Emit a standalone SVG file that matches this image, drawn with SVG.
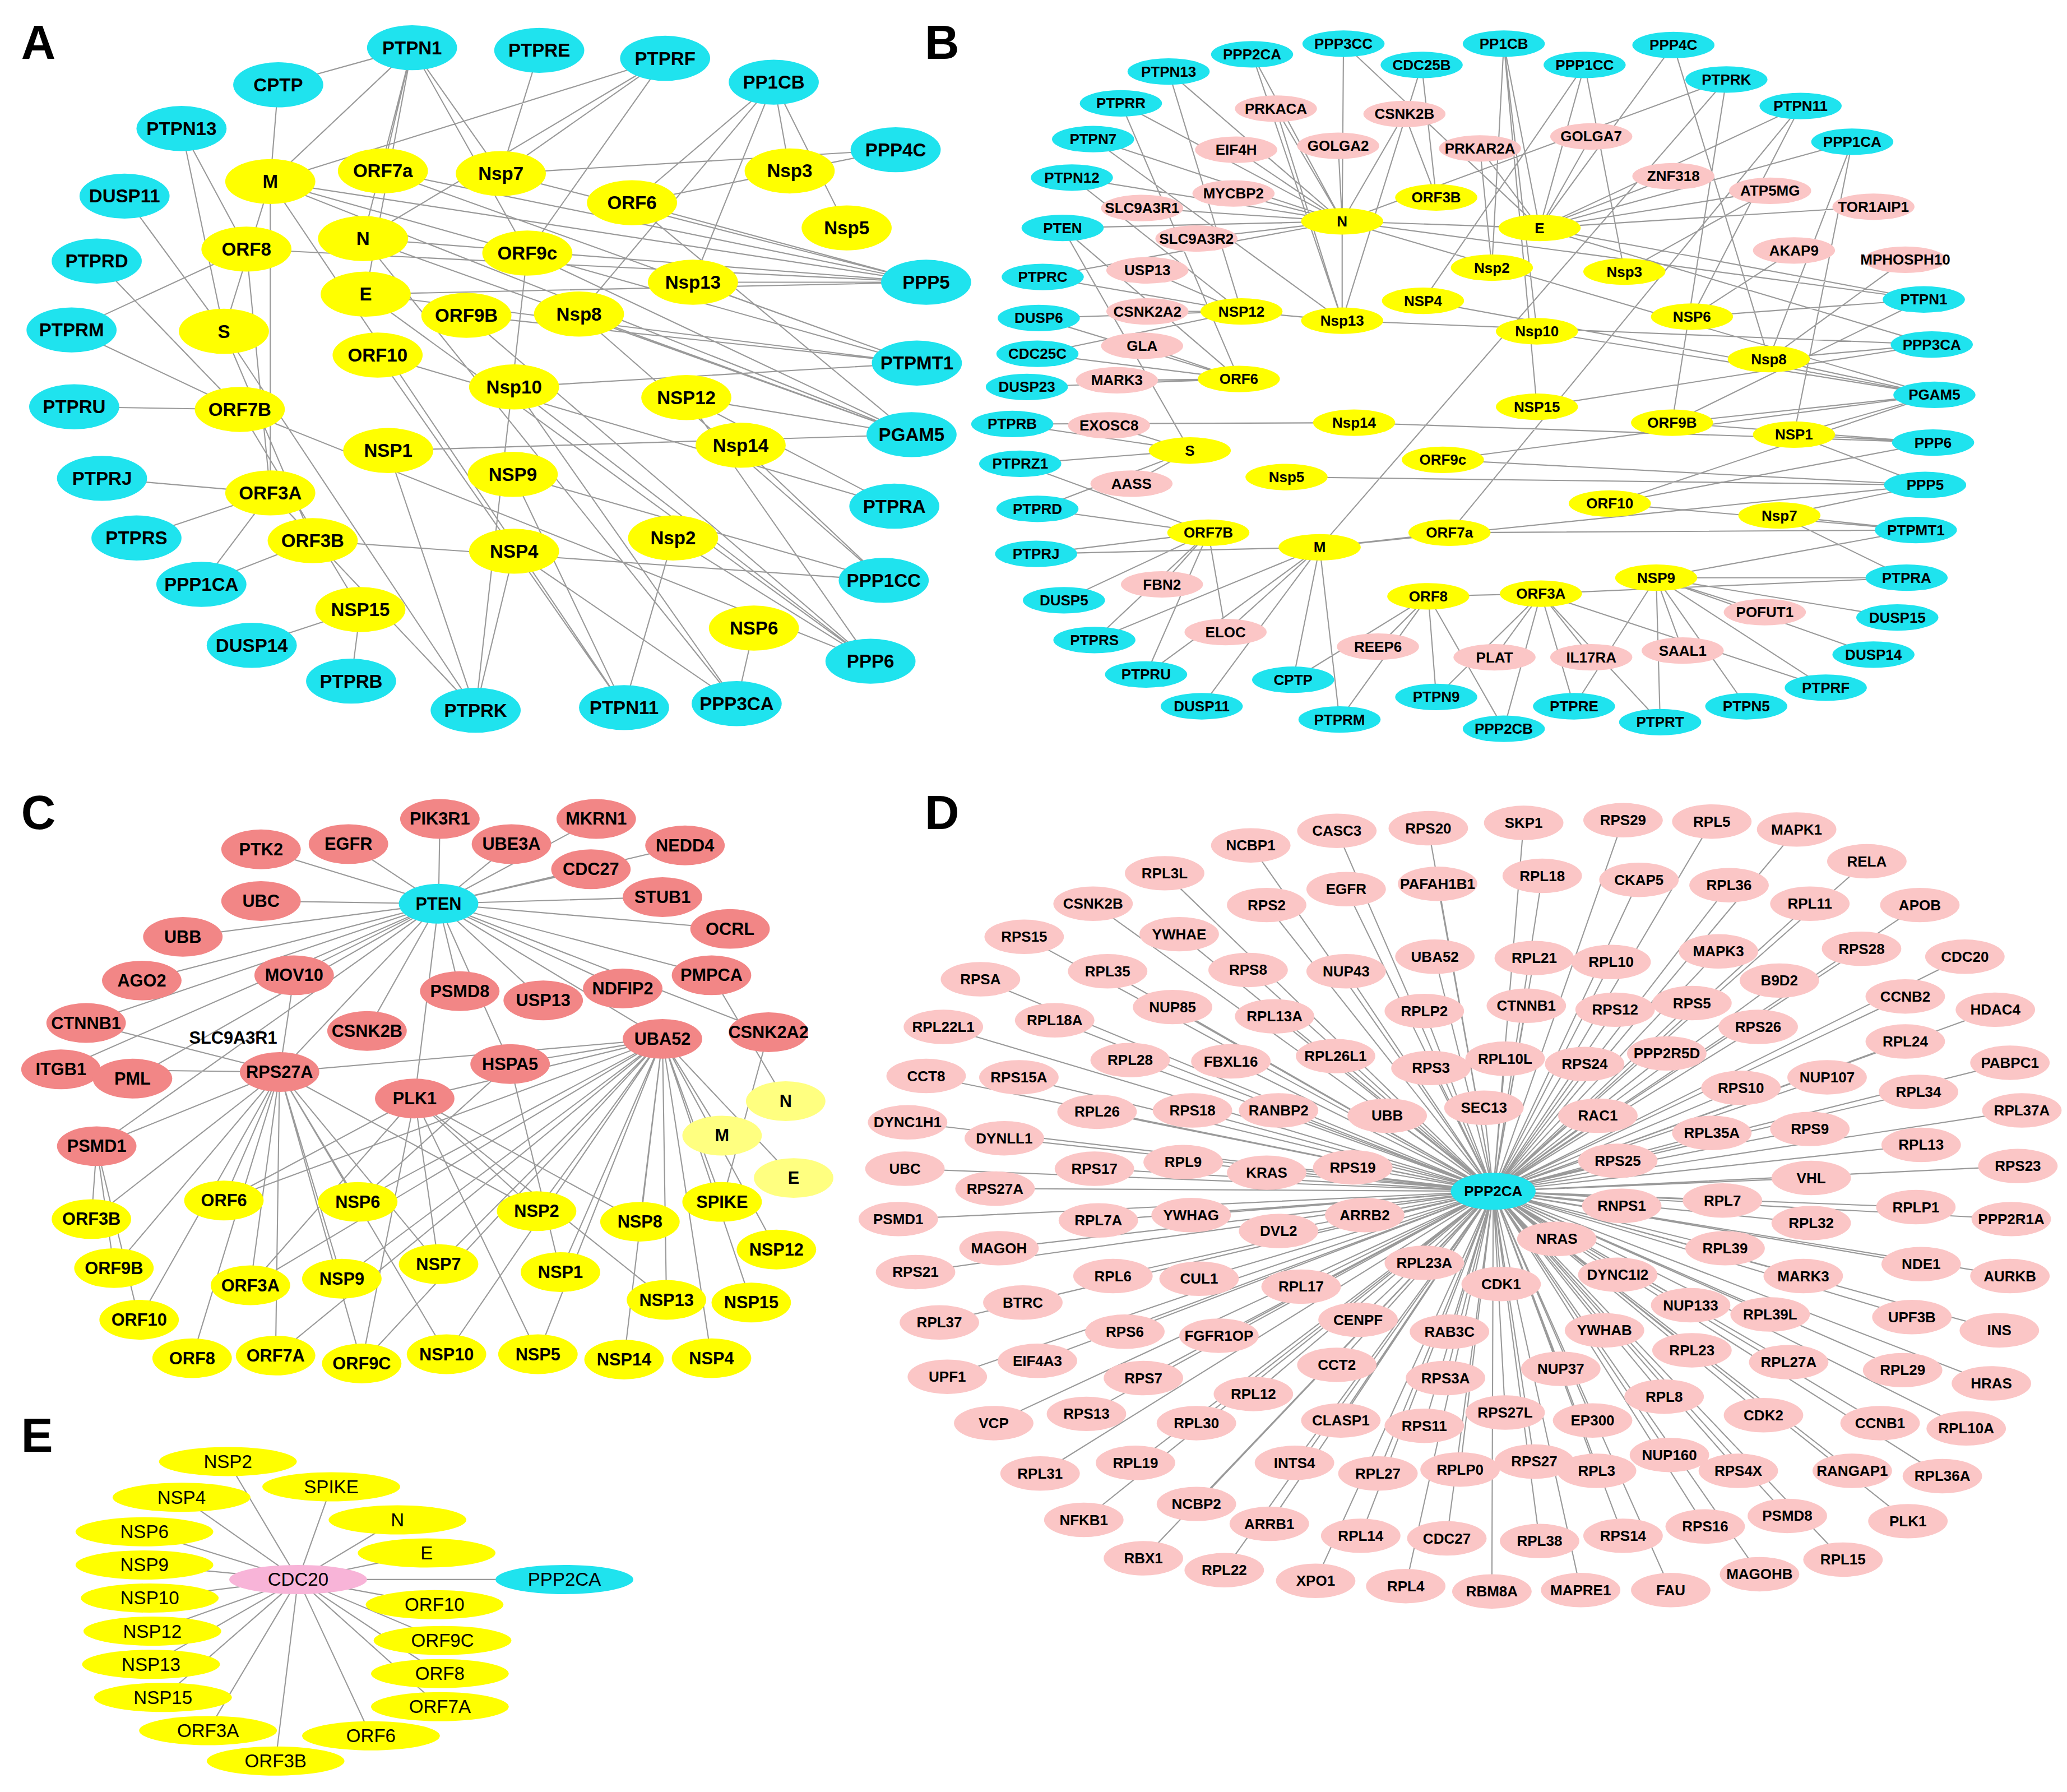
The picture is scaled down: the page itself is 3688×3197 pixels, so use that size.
<svg xmlns="http://www.w3.org/2000/svg" width="3688" height="3197" viewBox="0 0 3688 3197">
<style>
text{font-family:"Liberation Sans",Arial,sans-serif;font-weight:bold;text-anchor:middle;dominant-baseline:central;fill:#000}
.cy{fill:#1fe3ee}.ye{fill:#ffff00}.rd{fill:#f28686}.ly{fill:#ffff80}.pk{fill:#fbc6c6}.pp{fill:#f8b4d8}
#A ellipse{rx:34px;ry:17px}#A text{font-size:14px}
#B ellipse{rx:31px;ry:10px}#B text{font-size:11px}
#C ellipse{rx:30px;ry:15px}#C text{font-size:13px}
#D ellipse{rx:30px;ry:13px}#D text{font-size:11px}
#E ellipse{rx:52px;ry:11px}#E text{font-size:14px;font-weight:normal}
.lab{font-size:36px;text-anchor:start}
#edges path{fill:none;stroke:#9a9a9a;stroke-width:0.9}
</style>
<rect width="3688" height="3197" fill="#fff"/>
<g transform="scale(2.364)">
<g id="edges">
<path d="M311 36L204 137M311 36L289 129M311 36L378 131M311 36L274 180M311 36L398 191M311 36L276 222M311 36L210 64M210 64L204 137M407 38L378 131M502 44L398 191M502 44L204 137M584 62L596 129M584 62L477 153M584 62L523 213M584 62L437 237M137 97L186 188M137 97L169 250M94 148L169 250M73 197L181 309M54 249L186 188M54 249L181 309M56 307L181 309M77 361L204 372M103 406L204 372M152 441L204 372M152 441L236 408M190 487L272 460M265 514L272 460M359 536L388 416M359 536L204 372M359 536L293 340M471 534L387 358M471 534L508 406M471 534L285 268M556 531L388 416M556 531L388 292M556 531L569 474M657 499L508 406M657 499L518 300M657 499L388 292M657 499L352 238M667 438L559 336M667 438L387 358M667 438L437 237M675 382L518 300M675 382L285 268M688 328L204 137M688 328L274 180M688 328L398 191M688 328L437 237M688 328L518 300M688 328L477 153M692 274L204 137M692 274L276 222M692 274L289 129M692 274L523 213M692 274L352 238M699 213L204 137M699 213L289 129M699 213L274 180M699 213L378 131M699 213L477 153M699 213L186 188M699 213L523 213M676 113L378 131M676 113L477 153M639 172L584 62M204 137L169 250M204 137L204 372M186 188L204 372M169 250L236 408M181 309L272 460M502 44L378 131M502 44L274 180M667 438L236 408M657 499L181 309M359 536L169 250M471 534L204 137M688 328L293 340M692 274L388 292M699 213L276 222M657 499L276 222M556 531L274 180M359 536L398 191"/>
<path d="M945 41L1013 167M945 41L1013 242M1014 33L1013 167M1014 33L1162 172M882 54L1013 167M882 54L937 235M1073 49L1084 149M1073 49L1013 242M1135 33L1162 172M1135 33L1126 202M1135 33L1160 307M1135 33L1160 250M1196 49L1162 172M1196 49L1226 205M1196 49L1074 227M1263 34L1162 172M1263 34L1335 271M1303 60L1013 167M1303 60L1262 319M1303 60L996 413M1359 80L1162 172M1359 80L1277 239M1359 80L1094 402M1398 107L1162 172M1398 107L1335 271M1398 107L1354 328M846 78L1013 167M846 78L935 286M825 105L1013 167M825 105L1013 242M809 134L1013 167M809 134L937 235M802 172L1013 167M802 172L935 286M802 172L898 340M787 209L1013 167M787 209L937 235M1452 226L1162 172M1452 226L1277 239M1452 226L1013 167M1452 226L1262 319M784 240L937 235M784 240L935 286M1458 260L1335 271M1458 260L1162 172M1458 260L1013 242M1458 260L1160 307M783 267L935 286M783 267L937 235M775 292L935 286M1460 298L1335 271M1460 298L1354 328M1460 298L1262 319M1460 298L1160 250M1460 298L1074 227M1460 298L1013 167M1460 298L1215 380M1460 298L1089 347M764 320L898 340M764 320L1022 319M1459 334L1354 328M1459 334L1262 319M1459 334L1022 319M1459 334L1215 380M770 350L898 340M770 350L912 402M1453 366L1343 389M1453 366L1354 328M1453 366L1089 347M1453 366L996 413M1453 366L971 360M783 384L898 340M783 384L912 402M1446 400L1343 389M1446 400L1250 436M1446 400L1094 402M1446 400L1215 380M782 418L912 402M782 418L996 413M1439 436L1250 436M1439 436L1343 389M1439 436L1163 448M803 453L912 402M1432 466L1250 436M826 483L912 402M826 483L996 413M1414 494L1250 436M865 509L996 413M865 509L912 402M976 513L996 413M976 513L1078 450M1378 519L1250 436M1378 519L1163 448M907 533L996 413M1084 526L1078 450M1084 526L1163 448M1188 533L1163 448M1188 533L1250 436M1318 533L1250 436M1011 543L996 413M1011 543L1078 450M1135 550L1163 448M1135 550L1078 450M1253 545L1250 436M1253 545L1163 448M963 82L1013 167M963 82L1013 242M1060 86L1013 167M1060 86L1084 149M933 113L1013 167M1010 110L1013 167M1117 112L1162 172M1117 112L1126 202M1201 103L1162 172M1263 133L1162 172M931 146L1013 167M862 157L1013 167M1336 144L1162 172M1336 144L1226 205M1414 156L1162 172M903 180L1013 167M866 204L937 235M1354 189L1277 239M1438 196L1335 271M866 235L937 235M862 261L935 286M843 287L935 286M837 321L898 340M854 365L898 340M877 441L912 402M925 477L996 413M925 477L912 402M1040 488L1078 450M1128 496L1163 448M1201 496L1163 448M1270 491L1250 436M1332 462L1250 436M1013 167L1013 242M1013 167L1162 172M996 413L1094 402M1078 450L1163 448M937 235L1013 242"/>
<path d="M331 682L332 618M331 682L450 618M331 682L197 641M331 682L263 637M331 682L386 637M331 682L517 638M331 682L446 656M331 682L197 680M331 682L500 677M331 682L138 707M331 682L551 701M331 682L107 740M331 682L222 736M331 682L347 748M331 682L410 755M331 682L470 746M331 682L537 736M331 682L65 772M331 682L277 778M331 682L500 784M331 682L46 807M331 682L100 814M331 682L211 809M331 682L385 803M331 682L313 829M331 682L73 865M331 682L580 779M69 920L73 865M69 920L211 809M169 906L211 809M169 906L313 829M169 906L500 784M270 907L211 809M270 907L385 803M270 907L500 784M405 914L500 784M405 914L313 829M405 914L211 809M483 922L500 784M483 922L313 829M545 907L500 784M545 907L580 779M586 943L500 784M86 957L73 865M86 957L211 809M189 970L211 809M189 970L313 829M189 970L500 784M258 965L211 809M258 965L500 784M331 954L313 829M331 954L500 784M331 954L211 809M423 960L500 784M423 960L385 803M503 981L500 784M503 981L313 829M567 983L500 784M105 996L211 809M105 996L73 865M145 1025L211 809M208 1023L211 809M208 1023L500 784M273 1029L313 829M273 1029L500 784M273 1029L211 809M337 1022L500 784M337 1022L211 809M406 1022L500 784M406 1022L313 829M471 1026L500 784M537 1025L500 784M593 831L537 736M545 857L500 784M599 889L500 784M211 809L500 784M211 809L73 865M46 807L211 809M65 772L211 809M222 736L211 809M313 829L500 784M385 803L500 784"/>
<path d="M1127 899L944 638M1127 899L1009 627M1127 899L1078 625M1127 899L1150 621M1127 899L1225 619M1127 899L1292 620M1127 899L1356 626M1127 899L879 659M1127 899L1409 650M1127 899L825 682M1127 899L956 683M1127 899L1016 671M1127 899L1085 667M1127 899L1164 661M1127 899L1237 664M1127 899L1305 668M1127 899L1366 682M1127 899L1449 683M1127 899L890 705M1127 899L773 707M1127 899L1083 722M1127 899L1158 723M1127 899L1216 726M1127 899L1297 718M1127 899L1405 716M1127 899L1483 722M1127 899L836 733M1127 899L942 732M1127 899L1016 733M1127 899L740 739M1127 899L1343 740M1127 899L1438 752M1127 899L885 760M1127 899L962 767M1127 899L1075 763M1127 899L1152 759M1127 899L1219 762M1127 899L1277 757M1127 899L1506 762M1127 899L712 775M1127 899L796 770M1127 899L1327 775M1127 899L1438 786M1127 899L853 800M1127 899L929 801M1127 899L1008 797M1127 899L1080 806M1127 899L1136 799M1127 899L1196 803M1127 899L1258 795M1127 899L1517 802M1127 899L699 812M1127 899L769 813M1127 899L1379 813M1127 899L1314 821M1127 899L1448 824M1127 899L1120 836M1127 899L828 839M1127 899L900 838M1127 899L965 838M1127 899L1047 842M1127 899L1206 842M1127 899L1526 838M1127 899L685 847M1127 899L1292 855M1127 899L1366 852M1127 899L758 859M1127 899L1450 864M1127 899L683 882M1127 899L826 882M1127 899L893 877M1127 899L956 885M1127 899L1021 881M1127 899L1221 876M1127 899L1367 889M1127 899L1523 880M1127 899L751 897M1127 899L1300 906M1127 899L1224 910M1127 899L1446 911M1127 899L678 920M1127 899L829 921M1127 899L899 917M1127 899L1030 917M1127 899L965 929M1127 899L1367 923M1127 899L1518 920M1127 899L754 942M1127 899L1175 935M1127 899L1302 942M1127 899L1075 953M1127 899L1221 962M1127 899L1450 954M1127 899L691 960M1127 899L840 963M1127 899L905 965M1127 899L982 971M1127 899L1133 969M1127 899L1361 963M1127 899L1517 963M1127 899L772 983M1127 899L709 998M1127 899L1276 985M1127 899L1336 992M1127 899L1443 994M1127 899L1509 1004M1127 899L849 1005M1127 899L920 1008M1127 899L1025 996M1127 899L1094 1005M1127 899L1211 1004M1127 899L1277 1019M1127 899L1350 1028M1127 899L1436 1034M1127 899L1503 1044M1127 899L783 1027M1127 899L1009 1030M1127 899L715 1039M1127 899L1091 1040M1127 899L1178 1033M1127 899L863 1040M1127 899L946 1052M1127 899L1256 1054M1127 899L750 1074M1127 899L820 1067M1127 899L903 1074M1127 899L1012 1072M1127 899L1136 1066M1127 899L1202 1072M1127 899L1331 1068M1127 899L1419 1074M1127 899L1484 1078M1127 899L1075 1076M1127 899L785 1112M1127 899L857 1104M1127 899L977 1104M1127 899L1040 1112M1127 899L1102 1109M1127 899L1158 1103M1127 899L1205 1110M1127 899L1260 1098M1127 899L1312 1110M1127 899L1398 1110M1127 899L1466 1114M1127 899L818 1147M1127 899L903 1135M1127 899L958 1150M1127 899L1027 1159M1127 899L1092 1161M1127 899L1162 1163M1127 899L1225 1159M1127 899L1287 1152M1127 899L1349 1144M1127 899L1440 1148M1127 899L863 1176M1127 899L924 1185M1127 899L993 1193M1127 899L1061 1197M1127 899L1126 1201M1127 899L1193 1200M1127 899L1261 1200M1127 899L1328 1188M1127 899L1391 1177"/>
<path d="M225 1192L426 1192M225 1192L172 1103M225 1192L250 1122M225 1192L137 1130M225 1192L300 1147M225 1192L109 1156M225 1192L322 1172M225 1192L109 1181M225 1192L113 1206M225 1192L328 1211M225 1192L115 1231M225 1192L334 1238M225 1192L114 1256M225 1192L332 1263M225 1192L123 1281M225 1192L332 1288M225 1192L157 1306M225 1192L280 1310M225 1192L208 1329"/>
</g>
<g id="A">
<g id="a-PTPN1"><ellipse class="cy" cx="311" cy="36"/><text x="311" y="36">PTPN1</text></g>
<g id="a-PTPRE"><ellipse class="cy" cx="407" cy="38"/><text x="407" y="38">PTPRE</text></g>
<g id="a-PTPRF"><ellipse class="cy" cx="502" cy="44"/><text x="502" y="44">PTPRF</text></g>
<g id="a-CPTP"><ellipse class="cy" cx="210" cy="64"/><text x="210" y="64">CPTP</text></g>
<g id="a-PP1CB"><ellipse class="cy" cx="584" cy="62"/><text x="584" y="62">PP1CB</text></g>
<g id="a-PTPN13"><ellipse class="cy" cx="137" cy="97"/><text x="137" y="97">PTPN13</text></g>
<g id="a-PPP4C"><ellipse class="cy" cx="676" cy="113"/><text x="676" y="113">PPP4C</text></g>
<g id="a-DUSP11"><ellipse class="cy" cx="94" cy="148"/><text x="94" y="148">DUSP11</text></g>
<g id="a-PTPRD"><ellipse class="cy" cx="73" cy="197"/><text x="73" y="197">PTPRD</text></g>
<g id="a-PPP5"><ellipse class="cy" cx="699" cy="213"/><text x="699" y="213">PPP5</text></g>
<g id="a-PTPRM"><ellipse class="cy" cx="54" cy="249"/><text x="54" y="249">PTPRM</text></g>
<g id="a-PTPMT1"><ellipse class="cy" cx="692" cy="274"/><text x="692" y="274">PTPMT1</text></g>
<g id="a-PTPRU"><ellipse class="cy" cx="56" cy="307"/><text x="56" y="307">PTPRU</text></g>
<g id="a-PGAM5"><ellipse class="cy" cx="688" cy="328"/><text x="688" y="328">PGAM5</text></g>
<g id="a-PTPRJ"><ellipse class="cy" cx="77" cy="361"/><text x="77" y="361">PTPRJ</text></g>
<g id="a-PTPRA"><ellipse class="cy" cx="675" cy="382"/><text x="675" y="382">PTPRA</text></g>
<g id="a-PTPRS"><ellipse class="cy" cx="103" cy="406"/><text x="103" y="406">PTPRS</text></g>
<g id="a-PPP1CA"><ellipse class="cy" cx="152" cy="441"/><text x="152" y="441">PPP1CA</text></g>
<g id="a-PPP1CC"><ellipse class="cy" cx="667" cy="438"/><text x="667" y="438">PPP1CC</text></g>
<g id="a-DUSP14"><ellipse class="cy" cx="190" cy="487"/><text x="190" y="487">DUSP14</text></g>
<g id="a-PTPRB"><ellipse class="cy" cx="265" cy="514"/><text x="265" y="514">PTPRB</text></g>
<g id="a-PPP6"><ellipse class="cy" cx="657" cy="499"/><text x="657" y="499">PPP6</text></g>
<g id="a-PTPRK"><ellipse class="cy" cx="359" cy="536"/><text x="359" y="536">PTPRK</text></g>
<g id="a-PTPN11"><ellipse class="cy" cx="471" cy="534"/><text x="471" y="534">PTPN11</text></g>
<g id="a-PPP3CA"><ellipse class="cy" cx="556" cy="531"/><text x="556" y="531">PPP3CA</text></g>
<g id="a-M"><ellipse class="ye" cx="204" cy="137"/><text x="204" y="137">M</text></g>
<g id="a-ORF7a"><ellipse class="ye" cx="289" cy="129"/><text x="289" y="129">ORF7a</text></g>
<g id="a-Nsp7"><ellipse class="ye" cx="378" cy="131"/><text x="378" y="131">Nsp7</text></g>
<g id="a-ORF6"><ellipse class="ye" cx="477" cy="153"/><text x="477" y="153">ORF6</text></g>
<g id="a-Nsp3"><ellipse class="ye" cx="596" cy="129"/><text x="596" y="129">Nsp3</text></g>
<g id="a-Nsp5"><ellipse class="ye" cx="639" cy="172"/><text x="639" y="172">Nsp5</text></g>
<g id="a-ORF8"><ellipse class="ye" cx="186" cy="188"/><text x="186" y="188">ORF8</text></g>
<g id="a-N"><ellipse class="ye" cx="274" cy="180"/><text x="274" y="180">N</text></g>
<g id="a-ORF9c"><ellipse class="ye" cx="398" cy="191"/><text x="398" y="191">ORF9c</text></g>
<g id="a-Nsp13"><ellipse class="ye" cx="523" cy="213"/><text x="523" y="213">Nsp13</text></g>
<g id="a-E"><ellipse class="ye" cx="276" cy="222"/><text x="276" y="222">E</text></g>
<g id="a-S"><ellipse class="ye" cx="169" cy="250"/><text x="169" y="250">S</text></g>
<g id="a-ORF9B"><ellipse class="ye" cx="352" cy="238"/><text x="352" y="238">ORF9B</text></g>
<g id="a-Nsp8"><ellipse class="ye" cx="437" cy="237"/><text x="437" y="237">Nsp8</text></g>
<g id="a-ORF10"><ellipse class="ye" cx="285" cy="268"/><text x="285" y="268">ORF10</text></g>
<g id="a-Nsp10"><ellipse class="ye" cx="388" cy="292"/><text x="388" y="292">Nsp10</text></g>
<g id="a-NSP12"><ellipse class="ye" cx="518" cy="300"/><text x="518" y="300">NSP12</text></g>
<g id="a-ORF7B"><ellipse class="ye" cx="181" cy="309"/><text x="181" y="309">ORF7B</text></g>
<g id="a-NSP1"><ellipse class="ye" cx="293" cy="340"/><text x="293" y="340">NSP1</text></g>
<g id="a-Nsp14"><ellipse class="ye" cx="559" cy="336"/><text x="559" y="336">Nsp14</text></g>
<g id="a-NSP9"><ellipse class="ye" cx="387" cy="358"/><text x="387" y="358">NSP9</text></g>
<g id="a-ORF3A"><ellipse class="ye" cx="204" cy="372"/><text x="204" y="372">ORF3A</text></g>
<g id="a-ORF3B"><ellipse class="ye" cx="236" cy="408"/><text x="236" y="408">ORF3B</text></g>
<g id="a-NSP4"><ellipse class="ye" cx="388" cy="416"/><text x="388" y="416">NSP4</text></g>
<g id="a-Nsp2"><ellipse class="ye" cx="508" cy="406"/><text x="508" y="406">Nsp2</text></g>
<g id="a-NSP15"><ellipse class="ye" cx="272" cy="460"/><text x="272" y="460">NSP15</text></g>
<g id="a-NSP6"><ellipse class="ye" cx="569" cy="474"/><text x="569" y="474">NSP6</text></g>
</g>
<g id="B">
<g id="b-PPP2CA"><ellipse class="cy" cx="945" cy="41"/><text x="945" y="41">PPP2CA</text></g>
<g id="b-PPP3CC"><ellipse class="cy" cx="1014" cy="33"/><text x="1014" y="33">PPP3CC</text></g>
<g id="b-PTPN13"><ellipse class="cy" cx="882" cy="54"/><text x="882" y="54">PTPN13</text></g>
<g id="b-CDC25B"><ellipse class="cy" cx="1073" cy="49"/><text x="1073" y="49">CDC25B</text></g>
<g id="b-PP1CB"><ellipse class="cy" cx="1135" cy="33"/><text x="1135" y="33">PP1CB</text></g>
<g id="b-PPP1CC"><ellipse class="cy" cx="1196" cy="49"/><text x="1196" y="49">PPP1CC</text></g>
<g id="b-PPP4C"><ellipse class="cy" cx="1263" cy="34"/><text x="1263" y="34">PPP4C</text></g>
<g id="b-PTPRK"><ellipse class="cy" cx="1303" cy="60"/><text x="1303" y="60">PTPRK</text></g>
<g id="b-PTPRR"><ellipse class="cy" cx="846" cy="78"/><text x="846" y="78">PTPRR</text></g>
<g id="b-PTPN11"><ellipse class="cy" cx="1359" cy="80"/><text x="1359" y="80">PTPN11</text></g>
<g id="b-PTPN7"><ellipse class="cy" cx="825" cy="105"/><text x="825" y="105">PTPN7</text></g>
<g id="b-PPP1CA"><ellipse class="cy" cx="1398" cy="107"/><text x="1398" y="107">PPP1CA</text></g>
<g id="b-PTPN12"><ellipse class="cy" cx="809" cy="134"/><text x="809" y="134">PTPN12</text></g>
<g id="b-PTEN"><ellipse class="cy" cx="802" cy="172"/><text x="802" y="172">PTEN</text></g>
<g id="b-PTPRC"><ellipse class="cy" cx="787" cy="209"/><text x="787" y="209">PTPRC</text></g>
<g id="b-PTPN1"><ellipse class="cy" cx="1452" cy="226"/><text x="1452" y="226">PTPN1</text></g>
<g id="b-DUSP6"><ellipse class="cy" cx="784" cy="240"/><text x="784" y="240">DUSP6</text></g>
<g id="b-PPP3CA"><ellipse class="cy" cx="1458" cy="260"/><text x="1458" y="260">PPP3CA</text></g>
<g id="b-CDC25C"><ellipse class="cy" cx="783" cy="267"/><text x="783" y="267">CDC25C</text></g>
<g id="b-DUSP23"><ellipse class="cy" cx="775" cy="292"/><text x="775" y="292">DUSP23</text></g>
<g id="b-PGAM5"><ellipse class="cy" cx="1460" cy="298"/><text x="1460" y="298">PGAM5</text></g>
<g id="b-PTPRB"><ellipse class="cy" cx="764" cy="320"/><text x="764" y="320">PTPRB</text></g>
<g id="b-PPP6"><ellipse class="cy" cx="1459" cy="334"/><text x="1459" y="334">PPP6</text></g>
<g id="b-PTPRZ1"><ellipse class="cy" cx="770" cy="350"/><text x="770" y="350">PTPRZ1</text></g>
<g id="b-PPP5"><ellipse class="cy" cx="1453" cy="366"/><text x="1453" y="366">PPP5</text></g>
<g id="b-PTPRD"><ellipse class="cy" cx="783" cy="384"/><text x="783" y="384">PTPRD</text></g>
<g id="b-PTPMT1"><ellipse class="cy" cx="1446" cy="400"/><text x="1446" y="400">PTPMT1</text></g>
<g id="b-PTPRJ"><ellipse class="cy" cx="782" cy="418"/><text x="782" y="418">PTPRJ</text></g>
<g id="b-PTPRA"><ellipse class="cy" cx="1439" cy="436"/><text x="1439" y="436">PTPRA</text></g>
<g id="b-DUSP5"><ellipse class="cy" cx="803" cy="453"/><text x="803" y="453">DUSP5</text></g>
<g id="b-DUSP15"><ellipse class="cy" cx="1432" cy="466"/><text x="1432" y="466">DUSP15</text></g>
<g id="b-PTPRS"><ellipse class="cy" cx="826" cy="483"/><text x="826" y="483">PTPRS</text></g>
<g id="b-DUSP14"><ellipse class="cy" cx="1414" cy="494"/><text x="1414" y="494">DUSP14</text></g>
<g id="b-PTPRU"><ellipse class="cy" cx="865" cy="509"/><text x="865" y="509">PTPRU</text></g>
<g id="b-CPTP"><ellipse class="cy" cx="976" cy="513"/><text x="976" y="513">CPTP</text></g>
<g id="b-PTPRF"><ellipse class="cy" cx="1378" cy="519"/><text x="1378" y="519">PTPRF</text></g>
<g id="b-DUSP11"><ellipse class="cy" cx="907" cy="533"/><text x="907" y="533">DUSP11</text></g>
<g id="b-PTPN9"><ellipse class="cy" cx="1084" cy="526"/><text x="1084" y="526">PTPN9</text></g>
<g id="b-PTPRE"><ellipse class="cy" cx="1188" cy="533"/><text x="1188" y="533">PTPRE</text></g>
<g id="b-PTPN5"><ellipse class="cy" cx="1318" cy="533"/><text x="1318" y="533">PTPN5</text></g>
<g id="b-PTPRM"><ellipse class="cy" cx="1011" cy="543"/><text x="1011" y="543">PTPRM</text></g>
<g id="b-PPP2CB"><ellipse class="cy" cx="1135" cy="550"/><text x="1135" y="550">PPP2CB</text></g>
<g id="b-PTPRT"><ellipse class="cy" cx="1253" cy="545"/><text x="1253" y="545">PTPRT</text></g>
<g id="b-PRKACA"><ellipse class="pk" cx="963" cy="82"/><text x="963" y="82">PRKACA</text></g>
<g id="b-CSNK2B"><ellipse class="pk" cx="1060" cy="86"/><text x="1060" y="86">CSNK2B</text></g>
<g id="b-EIF4H"><ellipse class="pk" cx="933" cy="113"/><text x="933" y="113">EIF4H</text></g>
<g id="b-GOLGA2"><ellipse class="pk" cx="1010" cy="110"/><text x="1010" y="110">GOLGA2</text></g>
<g id="b-PRKAR2A"><ellipse class="pk" cx="1117" cy="112"/><text x="1117" y="112">PRKAR2A</text></g>
<g id="b-GOLGA7"><ellipse class="pk" cx="1201" cy="103"/><text x="1201" y="103">GOLGA7</text></g>
<g id="b-ZNF318"><ellipse class="pk" cx="1263" cy="133"/><text x="1263" y="133">ZNF318</text></g>
<g id="b-MYCBP2"><ellipse class="pk" cx="931" cy="146"/><text x="931" y="146">MYCBP2</text></g>
<g id="b-SLC9A3R1"><ellipse class="pk" cx="862" cy="157"/><text x="862" y="157">SLC9A3R1</text></g>
<g id="b-ATP5MG"><ellipse class="pk" cx="1336" cy="144"/><text x="1336" y="144">ATP5MG</text></g>
<g id="b-TOR1AIP1"><ellipse class="pk" cx="1414" cy="156"/><text x="1414" y="156">TOR1AIP1</text></g>
<g id="b-SLC9A3R2"><ellipse class="pk" cx="903" cy="180"/><text x="903" y="180">SLC9A3R2</text></g>
<g id="b-USP13"><ellipse class="pk" cx="866" cy="204"/><text x="866" y="204">USP13</text></g>
<g id="b-AKAP9"><ellipse class="pk" cx="1354" cy="189"/><text x="1354" y="189">AKAP9</text></g>
<g id="b-MPHOSPH10"><ellipse class="pk" cx="1438" cy="196"/><text x="1438" y="196">MPHOSPH10</text></g>
<g id="b-CSNK2A2"><ellipse class="pk" cx="866" cy="235"/><text x="866" y="235">CSNK2A2</text></g>
<g id="b-GLA"><ellipse class="pk" cx="862" cy="261"/><text x="862" y="261">GLA</text></g>
<g id="b-MARK3"><ellipse class="pk" cx="843" cy="287"/><text x="843" y="287">MARK3</text></g>
<g id="b-EXOSC8"><ellipse class="pk" cx="837" cy="321"/><text x="837" y="321">EXOSC8</text></g>
<g id="b-AASS"><ellipse class="pk" cx="854" cy="365"/><text x="854" y="365">AASS</text></g>
<g id="b-FBN2"><ellipse class="pk" cx="877" cy="441"/><text x="877" y="441">FBN2</text></g>
<g id="b-ELOC"><ellipse class="pk" cx="925" cy="477"/><text x="925" y="477">ELOC</text></g>
<g id="b-REEP6"><ellipse class="pk" cx="1040" cy="488"/><text x="1040" y="488">REEP6</text></g>
<g id="b-PLAT"><ellipse class="pk" cx="1128" cy="496"/><text x="1128" y="496">PLAT</text></g>
<g id="b-IL17RA"><ellipse class="pk" cx="1201" cy="496"/><text x="1201" y="496">IL17RA</text></g>
<g id="b-SAAL1"><ellipse class="pk" cx="1270" cy="491"/><text x="1270" y="491">SAAL1</text></g>
<g id="b-POFUT1"><ellipse class="pk" cx="1332" cy="462"/><text x="1332" y="462">POFUT1</text></g>
<g id="b-N"><ellipse class="ye" cx="1013" cy="167"/><text x="1013" y="167">N</text></g>
<g id="b-ORF3B"><ellipse class="ye" cx="1084" cy="149"/><text x="1084" y="149">ORF3B</text></g>
<g id="b-E"><ellipse class="ye" cx="1162" cy="172"/><text x="1162" y="172">E</text></g>
<g id="b-Nsp2"><ellipse class="ye" cx="1126" cy="202"/><text x="1126" y="202">Nsp2</text></g>
<g id="b-Nsp3"><ellipse class="ye" cx="1226" cy="205"/><text x="1226" y="205">Nsp3</text></g>
<g id="b-NSP12"><ellipse class="ye" cx="937" cy="235"/><text x="937" y="235">NSP12</text></g>
<g id="b-Nsp13"><ellipse class="ye" cx="1013" cy="242"/><text x="1013" y="242">Nsp13</text></g>
<g id="b-NSP4"><ellipse class="ye" cx="1074" cy="227"/><text x="1074" y="227">NSP4</text></g>
<g id="b-Nsp10"><ellipse class="ye" cx="1160" cy="250"/><text x="1160" y="250">Nsp10</text></g>
<g id="b-NSP6"><ellipse class="ye" cx="1277" cy="239"/><text x="1277" y="239">NSP6</text></g>
<g id="b-Nsp8"><ellipse class="ye" cx="1335" cy="271"/><text x="1335" y="271">Nsp8</text></g>
<g id="b-ORF6"><ellipse class="ye" cx="935" cy="286"/><text x="935" y="286">ORF6</text></g>
<g id="b-Nsp14"><ellipse class="ye" cx="1022" cy="319"/><text x="1022" y="319">Nsp14</text></g>
<g id="b-NSP15"><ellipse class="ye" cx="1160" cy="307"/><text x="1160" y="307">NSP15</text></g>
<g id="b-ORF9B"><ellipse class="ye" cx="1262" cy="319"/><text x="1262" y="319">ORF9B</text></g>
<g id="b-NSP1"><ellipse class="ye" cx="1354" cy="328"/><text x="1354" y="328">NSP1</text></g>
<g id="b-S"><ellipse class="ye" cx="898" cy="340"/><text x="898" y="340">S</text></g>
<g id="b-Nsp5"><ellipse class="ye" cx="971" cy="360"/><text x="971" y="360">Nsp5</text></g>
<g id="b-ORF9c"><ellipse class="ye" cx="1089" cy="347"/><text x="1089" y="347">ORF9c</text></g>
<g id="b-ORF10"><ellipse class="ye" cx="1215" cy="380"/><text x="1215" y="380">ORF10</text></g>
<g id="b-Nsp7"><ellipse class="ye" cx="1343" cy="389"/><text x="1343" y="389">Nsp7</text></g>
<g id="b-ORF7B"><ellipse class="ye" cx="912" cy="402"/><text x="912" y="402">ORF7B</text></g>
<g id="b-M"><ellipse class="ye" cx="996" cy="413"/><text x="996" y="413">M</text></g>
<g id="b-ORF7a"><ellipse class="ye" cx="1094" cy="402"/><text x="1094" y="402">ORF7a</text></g>
<g id="b-NSP9"><ellipse class="ye" cx="1250" cy="436"/><text x="1250" y="436">NSP9</text></g>
<g id="b-ORF8"><ellipse class="ye" cx="1078" cy="450"/><text x="1078" y="450">ORF8</text></g>
<g id="b-ORF3A"><ellipse class="ye" cx="1163" cy="448"/><text x="1163" y="448">ORF3A</text></g>
</g>
<g id="C">
<g id="c-PIK3R1"><ellipse class="rd" cx="332" cy="618"/><text x="332" y="618">PIK3R1</text></g>
<g id="c-MKRN1"><ellipse class="rd" cx="450" cy="618"/><text x="450" y="618">MKRN1</text></g>
<g id="c-PTK2"><ellipse class="rd" cx="197" cy="641"/><text x="197" y="641">PTK2</text></g>
<g id="c-EGFR"><ellipse class="rd" cx="263" cy="637"/><text x="263" y="637">EGFR</text></g>
<g id="c-UBE3A"><ellipse class="rd" cx="386" cy="637"/><text x="386" y="637">UBE3A</text></g>
<g id="c-NEDD4"><ellipse class="rd" cx="517" cy="638"/><text x="517" y="638">NEDD4</text></g>
<g id="c-CDC27"><ellipse class="rd" cx="446" cy="656"/><text x="446" y="656">CDC27</text></g>
<g id="c-UBC"><ellipse class="rd" cx="197" cy="680"/><text x="197" y="680">UBC</text></g>
<g id="c-PTEN"><ellipse class="cy" cx="331" cy="682"/><text x="331" y="682">PTEN</text></g>
<g id="c-STUB1"><ellipse class="rd" cx="500" cy="677"/><text x="500" y="677">STUB1</text></g>
<g id="c-UBB"><ellipse class="rd" cx="138" cy="707"/><text x="138" y="707">UBB</text></g>
<g id="c-OCRL"><ellipse class="rd" cx="551" cy="701"/><text x="551" y="701">OCRL</text></g>
<g id="c-AGO2"><ellipse class="rd" cx="107" cy="740"/><text x="107" y="740">AGO2</text></g>
<g id="c-MOV10"><ellipse class="rd" cx="222" cy="736"/><text x="222" y="736">MOV10</text></g>
<g id="c-PSMD8"><ellipse class="rd" cx="347" cy="748"/><text x="347" y="748">PSMD8</text></g>
<g id="c-USP13"><ellipse class="rd" cx="410" cy="755"/><text x="410" y="755">USP13</text></g>
<g id="c-NDFIP2"><ellipse class="rd" cx="470" cy="746"/><text x="470" y="746">NDFIP2</text></g>
<g id="c-PMPCA"><ellipse class="rd" cx="537" cy="736"/><text x="537" y="736">PMPCA</text></g>
<g id="c-CTNNB1"><ellipse class="rd" cx="65" cy="772"/><text x="65" y="772">CTNNB1</text></g>
<g id="c-SLC9A3R1"><text x="176" y="783">SLC9A3R1</text></g>
<g id="c-CSNK2B"><ellipse class="rd" cx="277" cy="778"/><text x="277" y="778">CSNK2B</text></g>
<g id="c-UBA52"><ellipse class="rd" cx="500" cy="784"/><text x="500" y="784">UBA52</text></g>
<g id="c-CSNK2A2"><ellipse class="rd" cx="580" cy="779"/><text x="580" y="779">CSNK2A2</text></g>
<g id="c-ITGB1"><ellipse class="rd" cx="46" cy="807"/><text x="46" y="807">ITGB1</text></g>
<g id="c-PML"><ellipse class="rd" cx="100" cy="814"/><text x="100" y="814">PML</text></g>
<g id="c-RPS27A"><ellipse class="rd" cx="211" cy="809"/><text x="211" y="809">RPS27A</text></g>
<g id="c-HSPA5"><ellipse class="rd" cx="385" cy="803"/><text x="385" y="803">HSPA5</text></g>
<g id="c-PLK1"><ellipse class="rd" cx="313" cy="829"/><text x="313" y="829">PLK1</text></g>
<g id="c-PSMD1"><ellipse class="rd" cx="73" cy="865"/><text x="73" y="865">PSMD1</text></g>
<g id="c-N"><ellipse class="ly" cx="593" cy="831"/><text x="593" y="831">N</text></g>
<g id="c-M"><ellipse class="ly" cx="545" cy="857"/><text x="545" y="857">M</text></g>
<g id="c-E"><ellipse class="ly" cx="599" cy="889"/><text x="599" y="889">E</text></g>
<g id="c-ORF3B"><ellipse class="ye" cx="69" cy="920"/><text x="69" y="920">ORF3B</text></g>
<g id="c-ORF6"><ellipse class="ye" cx="169" cy="906"/><text x="169" y="906">ORF6</text></g>
<g id="c-NSP6"><ellipse class="ye" cx="270" cy="907"/><text x="270" y="907">NSP6</text></g>
<g id="c-NSP2"><ellipse class="ye" cx="405" cy="914"/><text x="405" y="914">NSP2</text></g>
<g id="c-NSP8"><ellipse class="ye" cx="483" cy="922"/><text x="483" y="922">NSP8</text></g>
<g id="c-SPIKE"><ellipse class="ye" cx="545" cy="907"/><text x="545" y="907">SPIKE</text></g>
<g id="c-NSP12"><ellipse class="ye" cx="586" cy="943"/><text x="586" y="943">NSP12</text></g>
<g id="c-ORF9B"><ellipse class="ye" cx="86" cy="957"/><text x="86" y="957">ORF9B</text></g>
<g id="c-ORF3A"><ellipse class="ye" cx="189" cy="970"/><text x="189" y="970">ORF3A</text></g>
<g id="c-NSP9"><ellipse class="ye" cx="258" cy="965"/><text x="258" y="965">NSP9</text></g>
<g id="c-NSP7"><ellipse class="ye" cx="331" cy="954"/><text x="331" y="954">NSP7</text></g>
<g id="c-NSP1"><ellipse class="ye" cx="423" cy="960"/><text x="423" y="960">NSP1</text></g>
<g id="c-NSP13"><ellipse class="ye" cx="503" cy="981"/><text x="503" y="981">NSP13</text></g>
<g id="c-NSP15"><ellipse class="ye" cx="567" cy="983"/><text x="567" y="983">NSP15</text></g>
<g id="c-ORF10"><ellipse class="ye" cx="105" cy="996"/><text x="105" y="996">ORF10</text></g>
<g id="c-ORF8"><ellipse class="ye" cx="145" cy="1025"/><text x="145" y="1025">ORF8</text></g>
<g id="c-ORF7A"><ellipse class="ye" cx="208" cy="1023"/><text x="208" y="1023">ORF7A</text></g>
<g id="c-ORF9C"><ellipse class="ye" cx="273" cy="1029"/><text x="273" y="1029">ORF9C</text></g>
<g id="c-NSP10"><ellipse class="ye" cx="337" cy="1022"/><text x="337" y="1022">NSP10</text></g>
<g id="c-NSP5"><ellipse class="ye" cx="406" cy="1022"/><text x="406" y="1022">NSP5</text></g>
<g id="c-NSP14"><ellipse class="ye" cx="471" cy="1026"/><text x="471" y="1026">NSP14</text></g>
<g id="c-NSP4"><ellipse class="ye" cx="537" cy="1025"/><text x="537" y="1025">NSP4</text></g>
</g>
<g id="D">
<g id="d-NCBP1"><ellipse class="pk" cx="944" cy="638"/><text x="944" y="638">NCBP1</text></g>
<g id="d-CASC3"><ellipse class="pk" cx="1009" cy="627"/><text x="1009" y="627">CASC3</text></g>
<g id="d-RPS20"><ellipse class="pk" cx="1078" cy="625"/><text x="1078" y="625">RPS20</text></g>
<g id="d-SKP1"><ellipse class="pk" cx="1150" cy="621"/><text x="1150" y="621">SKP1</text></g>
<g id="d-RPS29"><ellipse class="pk" cx="1225" cy="619"/><text x="1225" y="619">RPS29</text></g>
<g id="d-RPL5"><ellipse class="pk" cx="1292" cy="620"/><text x="1292" y="620">RPL5</text></g>
<g id="d-MAPK1"><ellipse class="pk" cx="1356" cy="626"/><text x="1356" y="626">MAPK1</text></g>
<g id="d-RPL3L"><ellipse class="pk" cx="879" cy="659"/><text x="879" y="659">RPL3L</text></g>
<g id="d-RELA"><ellipse class="pk" cx="1409" cy="650"/><text x="1409" y="650">RELA</text></g>
<g id="d-CSNK2B"><ellipse class="pk" cx="825" cy="682"/><text x="825" y="682">CSNK2B</text></g>
<g id="d-RPS2"><ellipse class="pk" cx="956" cy="683"/><text x="956" y="683">RPS2</text></g>
<g id="d-EGFR"><ellipse class="pk" cx="1016" cy="671"/><text x="1016" y="671">EGFR</text></g>
<g id="d-PAFAH1B1"><ellipse class="pk" cx="1085" cy="667"/><text x="1085" y="667">PAFAH1B1</text></g>
<g id="d-RPL18"><ellipse class="pk" cx="1164" cy="661"/><text x="1164" y="661">RPL18</text></g>
<g id="d-CKAP5"><ellipse class="pk" cx="1237" cy="664"/><text x="1237" y="664">CKAP5</text></g>
<g id="d-RPL36"><ellipse class="pk" cx="1305" cy="668"/><text x="1305" y="668">RPL36</text></g>
<g id="d-RPL11"><ellipse class="pk" cx="1366" cy="682"/><text x="1366" y="682">RPL11</text></g>
<g id="d-APOB"><ellipse class="pk" cx="1449" cy="683"/><text x="1449" y="683">APOB</text></g>
<g id="d-YWHAE"><ellipse class="pk" cx="890" cy="705"/><text x="890" y="705">YWHAE</text></g>
<g id="d-RPS15"><ellipse class="pk" cx="773" cy="707"/><text x="773" y="707">RPS15</text></g>
<g id="d-UBA52"><ellipse class="pk" cx="1083" cy="722"/><text x="1083" y="722">UBA52</text></g>
<g id="d-RPL21"><ellipse class="pk" cx="1158" cy="723"/><text x="1158" y="723">RPL21</text></g>
<g id="d-RPL10"><ellipse class="pk" cx="1216" cy="726"/><text x="1216" y="726">RPL10</text></g>
<g id="d-MAPK3"><ellipse class="pk" cx="1297" cy="718"/><text x="1297" y="718">MAPK3</text></g>
<g id="d-RPS28"><ellipse class="pk" cx="1405" cy="716"/><text x="1405" y="716">RPS28</text></g>
<g id="d-CDC20"><ellipse class="pk" cx="1483" cy="722"/><text x="1483" y="722">CDC20</text></g>
<g id="d-RPL35"><ellipse class="pk" cx="836" cy="733"/><text x="836" y="733">RPL35</text></g>
<g id="d-RPS8"><ellipse class="pk" cx="942" cy="732"/><text x="942" y="732">RPS8</text></g>
<g id="d-NUP43"><ellipse class="pk" cx="1016" cy="733"/><text x="1016" y="733">NUP43</text></g>
<g id="d-RPSA"><ellipse class="pk" cx="740" cy="739"/><text x="740" y="739">RPSA</text></g>
<g id="d-B9D2"><ellipse class="pk" cx="1343" cy="740"/><text x="1343" y="740">B9D2</text></g>
<g id="d-CCNB2"><ellipse class="pk" cx="1438" cy="752"/><text x="1438" y="752">CCNB2</text></g>
<g id="d-NUP85"><ellipse class="pk" cx="885" cy="760"/><text x="885" y="760">NUP85</text></g>
<g id="d-RPL13A"><ellipse class="pk" cx="962" cy="767"/><text x="962" y="767">RPL13A</text></g>
<g id="d-RPLP2"><ellipse class="pk" cx="1075" cy="763"/><text x="1075" y="763">RPLP2</text></g>
<g id="d-CTNNB1"><ellipse class="pk" cx="1152" cy="759"/><text x="1152" y="759">CTNNB1</text></g>
<g id="d-RPS12"><ellipse class="pk" cx="1219" cy="762"/><text x="1219" y="762">RPS12</text></g>
<g id="d-RPS5"><ellipse class="pk" cx="1277" cy="757"/><text x="1277" y="757">RPS5</text></g>
<g id="d-HDAC4"><ellipse class="pk" cx="1506" cy="762"/><text x="1506" y="762">HDAC4</text></g>
<g id="d-RPL22L1"><ellipse class="pk" cx="712" cy="775"/><text x="712" y="775">RPL22L1</text></g>
<g id="d-RPL18A"><ellipse class="pk" cx="796" cy="770"/><text x="796" y="770">RPL18A</text></g>
<g id="d-RPS26"><ellipse class="pk" cx="1327" cy="775"/><text x="1327" y="775">RPS26</text></g>
<g id="d-RPL24"><ellipse class="pk" cx="1438" cy="786"/><text x="1438" y="786">RPL24</text></g>
<g id="d-RPL28"><ellipse class="pk" cx="853" cy="800"/><text x="853" y="800">RPL28</text></g>
<g id="d-FBXL16"><ellipse class="pk" cx="929" cy="801"/><text x="929" y="801">FBXL16</text></g>
<g id="d-RPL26L1"><ellipse class="pk" cx="1008" cy="797"/><text x="1008" y="797">RPL26L1</text></g>
<g id="d-RPS3"><ellipse class="pk" cx="1080" cy="806"/><text x="1080" y="806">RPS3</text></g>
<g id="d-RPL10L"><ellipse class="pk" cx="1136" cy="799"/><text x="1136" y="799">RPL10L</text></g>
<g id="d-RPS24"><ellipse class="pk" cx="1196" cy="803"/><text x="1196" y="803">RPS24</text></g>
<g id="d-PPP2R5D"><ellipse class="pk" cx="1258" cy="795"/><text x="1258" y="795">PPP2R5D</text></g>
<g id="d-PABPC1"><ellipse class="pk" cx="1517" cy="802"/><text x="1517" y="802">PABPC1</text></g>
<g id="d-CCT8"><ellipse class="pk" cx="699" cy="812"/><text x="699" y="812">CCT8</text></g>
<g id="d-RPS15A"><ellipse class="pk" cx="769" cy="813"/><text x="769" y="813">RPS15A</text></g>
<g id="d-NUP107"><ellipse class="pk" cx="1379" cy="813"/><text x="1379" y="813">NUP107</text></g>
<g id="d-RPS10"><ellipse class="pk" cx="1314" cy="821"/><text x="1314" y="821">RPS10</text></g>
<g id="d-RPL34"><ellipse class="pk" cx="1448" cy="824"/><text x="1448" y="824">RPL34</text></g>
<g id="d-SEC13"><ellipse class="pk" cx="1120" cy="836"/><text x="1120" y="836">SEC13</text></g>
<g id="d-RPL26"><ellipse class="pk" cx="828" cy="839"/><text x="828" y="839">RPL26</text></g>
<g id="d-RPS18"><ellipse class="pk" cx="900" cy="838"/><text x="900" y="838">RPS18</text></g>
<g id="d-RANBP2"><ellipse class="pk" cx="965" cy="838"/><text x="965" y="838">RANBP2</text></g>
<g id="d-UBB"><ellipse class="pk" cx="1047" cy="842"/><text x="1047" y="842">UBB</text></g>
<g id="d-RAC1"><ellipse class="pk" cx="1206" cy="842"/><text x="1206" y="842">RAC1</text></g>
<g id="d-RPL37A"><ellipse class="pk" cx="1526" cy="838"/><text x="1526" y="838">RPL37A</text></g>
<g id="d-DYNC1H1"><ellipse class="pk" cx="685" cy="847"/><text x="685" y="847">DYNC1H1</text></g>
<g id="d-RPL35A"><ellipse class="pk" cx="1292" cy="855"/><text x="1292" y="855">RPL35A</text></g>
<g id="d-RPS9"><ellipse class="pk" cx="1366" cy="852"/><text x="1366" y="852">RPS9</text></g>
<g id="d-DYNLL1"><ellipse class="pk" cx="758" cy="859"/><text x="758" y="859">DYNLL1</text></g>
<g id="d-RPL13"><ellipse class="pk" cx="1450" cy="864"/><text x="1450" y="864">RPL13</text></g>
<g id="d-UBC"><ellipse class="pk" cx="683" cy="882"/><text x="683" y="882">UBC</text></g>
<g id="d-RPS17"><ellipse class="pk" cx="826" cy="882"/><text x="826" y="882">RPS17</text></g>
<g id="d-RPL9"><ellipse class="pk" cx="893" cy="877"/><text x="893" y="877">RPL9</text></g>
<g id="d-KRAS"><ellipse class="pk" cx="956" cy="885"/><text x="956" y="885">KRAS</text></g>
<g id="d-RPS19"><ellipse class="pk" cx="1021" cy="881"/><text x="1021" y="881">RPS19</text></g>
<g id="d-RPS25"><ellipse class="pk" cx="1221" cy="876"/><text x="1221" y="876">RPS25</text></g>
<g id="d-VHL"><ellipse class="pk" cx="1367" cy="889"/><text x="1367" y="889">VHL</text></g>
<g id="d-RPS23"><ellipse class="pk" cx="1523" cy="880"/><text x="1523" y="880">RPS23</text></g>
<g id="d-RPS27A"><ellipse class="pk" cx="751" cy="897"/><text x="751" y="897">RPS27A</text></g>
<g id="d-RPL7"><ellipse class="pk" cx="1300" cy="906"/><text x="1300" y="906">RPL7</text></g>
<g id="d-RNPS1"><ellipse class="pk" cx="1224" cy="910"/><text x="1224" y="910">RNPS1</text></g>
<g id="d-RPLP1"><ellipse class="pk" cx="1446" cy="911"/><text x="1446" y="911">RPLP1</text></g>
<g id="d-PSMD1"><ellipse class="pk" cx="678" cy="920"/><text x="678" y="920">PSMD1</text></g>
<g id="d-RPL7A"><ellipse class="pk" cx="829" cy="921"/><text x="829" y="921">RPL7A</text></g>
<g id="d-YWHAG"><ellipse class="pk" cx="899" cy="917"/><text x="899" y="917">YWHAG</text></g>
<g id="d-ARRB2"><ellipse class="pk" cx="1030" cy="917"/><text x="1030" y="917">ARRB2</text></g>
<g id="d-DVL2"><ellipse class="pk" cx="965" cy="929"/><text x="965" y="929">DVL2</text></g>
<g id="d-RPL32"><ellipse class="pk" cx="1367" cy="923"/><text x="1367" y="923">RPL32</text></g>
<g id="d-PPP2R1A"><ellipse class="pk" cx="1518" cy="920"/><text x="1518" y="920">PPP2R1A</text></g>
<g id="d-MAGOH"><ellipse class="pk" cx="754" cy="942"/><text x="754" y="942">MAGOH</text></g>
<g id="d-NRAS"><ellipse class="pk" cx="1175" cy="935"/><text x="1175" y="935">NRAS</text></g>
<g id="d-RPL39"><ellipse class="pk" cx="1302" cy="942"/><text x="1302" y="942">RPL39</text></g>
<g id="d-RPL23A"><ellipse class="pk" cx="1075" cy="953"/><text x="1075" y="953">RPL23A</text></g>
<g id="d-DYNC1I2"><ellipse class="pk" cx="1221" cy="962"/><text x="1221" y="962">DYNC1I2</text></g>
<g id="d-NDE1"><ellipse class="pk" cx="1450" cy="954"/><text x="1450" y="954">NDE1</text></g>
<g id="d-RPS21"><ellipse class="pk" cx="691" cy="960"/><text x="691" y="960">RPS21</text></g>
<g id="d-RPL6"><ellipse class="pk" cx="840" cy="963"/><text x="840" y="963">RPL6</text></g>
<g id="d-CUL1"><ellipse class="pk" cx="905" cy="965"/><text x="905" y="965">CUL1</text></g>
<g id="d-RPL17"><ellipse class="pk" cx="982" cy="971"/><text x="982" y="971">RPL17</text></g>
<g id="d-CDK1"><ellipse class="pk" cx="1133" cy="969"/><text x="1133" y="969">CDK1</text></g>
<g id="d-MARK3"><ellipse class="pk" cx="1361" cy="963"/><text x="1361" y="963">MARK3</text></g>
<g id="d-AURKB"><ellipse class="pk" cx="1517" cy="963"/><text x="1517" y="963">AURKB</text></g>
<g id="d-BTRC"><ellipse class="pk" cx="772" cy="983"/><text x="772" y="983">BTRC</text></g>
<g id="d-RPL37"><ellipse class="pk" cx="709" cy="998"/><text x="709" y="998">RPL37</text></g>
<g id="d-NUP133"><ellipse class="pk" cx="1276" cy="985"/><text x="1276" y="985">NUP133</text></g>
<g id="d-RPL39L"><ellipse class="pk" cx="1336" cy="992"/><text x="1336" y="992">RPL39L</text></g>
<g id="d-UPF3B"><ellipse class="pk" cx="1443" cy="994"/><text x="1443" y="994">UPF3B</text></g>
<g id="d-INS"><ellipse class="pk" cx="1509" cy="1004"/><text x="1509" y="1004">INS</text></g>
<g id="d-RPS6"><ellipse class="pk" cx="849" cy="1005"/><text x="849" y="1005">RPS6</text></g>
<g id="d-FGFR1OP"><ellipse class="pk" cx="920" cy="1008"/><text x="920" y="1008">FGFR1OP</text></g>
<g id="d-CENPF"><ellipse class="pk" cx="1025" cy="996"/><text x="1025" y="996">CENPF</text></g>
<g id="d-RAB3C"><ellipse class="pk" cx="1094" cy="1005"/><text x="1094" y="1005">RAB3C</text></g>
<g id="d-YWHAB"><ellipse class="pk" cx="1211" cy="1004"/><text x="1211" y="1004">YWHAB</text></g>
<g id="d-RPL23"><ellipse class="pk" cx="1277" cy="1019"/><text x="1277" y="1019">RPL23</text></g>
<g id="d-RPL27A"><ellipse class="pk" cx="1350" cy="1028"/><text x="1350" y="1028">RPL27A</text></g>
<g id="d-RPL29"><ellipse class="pk" cx="1436" cy="1034"/><text x="1436" y="1034">RPL29</text></g>
<g id="d-HRAS"><ellipse class="pk" cx="1503" cy="1044"/><text x="1503" y="1044">HRAS</text></g>
<g id="d-EIF4A3"><ellipse class="pk" cx="783" cy="1027"/><text x="783" y="1027">EIF4A3</text></g>
<g id="d-CCT2"><ellipse class="pk" cx="1009" cy="1030"/><text x="1009" y="1030">CCT2</text></g>
<g id="d-UPF1"><ellipse class="pk" cx="715" cy="1039"/><text x="715" y="1039">UPF1</text></g>
<g id="d-RPS3A"><ellipse class="pk" cx="1091" cy="1040"/><text x="1091" y="1040">RPS3A</text></g>
<g id="d-NUP37"><ellipse class="pk" cx="1178" cy="1033"/><text x="1178" y="1033">NUP37</text></g>
<g id="d-RPS7"><ellipse class="pk" cx="863" cy="1040"/><text x="863" y="1040">RPS7</text></g>
<g id="d-RPL12"><ellipse class="pk" cx="946" cy="1052"/><text x="946" y="1052">RPL12</text></g>
<g id="d-RPL8"><ellipse class="pk" cx="1256" cy="1054"/><text x="1256" y="1054">RPL8</text></g>
<g id="d-VCP"><ellipse class="pk" cx="750" cy="1074"/><text x="750" y="1074">VCP</text></g>
<g id="d-RPS13"><ellipse class="pk" cx="820" cy="1067"/><text x="820" y="1067">RPS13</text></g>
<g id="d-RPL30"><ellipse class="pk" cx="903" cy="1074"/><text x="903" y="1074">RPL30</text></g>
<g id="d-CLASP1"><ellipse class="pk" cx="1012" cy="1072"/><text x="1012" y="1072">CLASP1</text></g>
<g id="d-RPS27L"><ellipse class="pk" cx="1136" cy="1066"/><text x="1136" y="1066">RPS27L</text></g>
<g id="d-EP300"><ellipse class="pk" cx="1202" cy="1072"/><text x="1202" y="1072">EP300</text></g>
<g id="d-CDK2"><ellipse class="pk" cx="1331" cy="1068"/><text x="1331" y="1068">CDK2</text></g>
<g id="d-CCNB1"><ellipse class="pk" cx="1419" cy="1074"/><text x="1419" y="1074">CCNB1</text></g>
<g id="d-RPL10A"><ellipse class="pk" cx="1484" cy="1078"/><text x="1484" y="1078">RPL10A</text></g>
<g id="d-RPS11"><ellipse class="pk" cx="1075" cy="1076"/><text x="1075" y="1076">RPS11</text></g>
<g id="d-RPL31"><ellipse class="pk" cx="785" cy="1112"/><text x="785" y="1112">RPL31</text></g>
<g id="d-RPL19"><ellipse class="pk" cx="857" cy="1104"/><text x="857" y="1104">RPL19</text></g>
<g id="d-INTS4"><ellipse class="pk" cx="977" cy="1104"/><text x="977" y="1104">INTS4</text></g>
<g id="d-RPL27"><ellipse class="pk" cx="1040" cy="1112"/><text x="1040" y="1112">RPL27</text></g>
<g id="d-RPLP0"><ellipse class="pk" cx="1102" cy="1109"/><text x="1102" y="1109">RPLP0</text></g>
<g id="d-RPS27"><ellipse class="pk" cx="1158" cy="1103"/><text x="1158" y="1103">RPS27</text></g>
<g id="d-RPL3"><ellipse class="pk" cx="1205" cy="1110"/><text x="1205" y="1110">RPL3</text></g>
<g id="d-NUP160"><ellipse class="pk" cx="1260" cy="1098"/><text x="1260" y="1098">NUP160</text></g>
<g id="d-RPS4X"><ellipse class="pk" cx="1312" cy="1110"/><text x="1312" y="1110">RPS4X</text></g>
<g id="d-RANGAP1"><ellipse class="pk" cx="1398" cy="1110"/><text x="1398" y="1110">RANGAP1</text></g>
<g id="d-RPL36A"><ellipse class="pk" cx="1466" cy="1114"/><text x="1466" y="1114">RPL36A</text></g>
<g id="d-NFKB1"><ellipse class="pk" cx="818" cy="1147"/><text x="818" y="1147">NFKB1</text></g>
<g id="d-NCBP2"><ellipse class="pk" cx="903" cy="1135"/><text x="903" y="1135">NCBP2</text></g>
<g id="d-ARRB1"><ellipse class="pk" cx="958" cy="1150"/><text x="958" y="1150">ARRB1</text></g>
<g id="d-RPL14"><ellipse class="pk" cx="1027" cy="1159"/><text x="1027" y="1159">RPL14</text></g>
<g id="d-CDC27"><ellipse class="pk" cx="1092" cy="1161"/><text x="1092" y="1161">CDC27</text></g>
<g id="d-RPL38"><ellipse class="pk" cx="1162" cy="1163"/><text x="1162" y="1163">RPL38</text></g>
<g id="d-RPS14"><ellipse class="pk" cx="1225" cy="1159"/><text x="1225" y="1159">RPS14</text></g>
<g id="d-RPS16"><ellipse class="pk" cx="1287" cy="1152"/><text x="1287" y="1152">RPS16</text></g>
<g id="d-PSMD8"><ellipse class="pk" cx="1349" cy="1144"/><text x="1349" y="1144">PSMD8</text></g>
<g id="d-PLK1"><ellipse class="pk" cx="1440" cy="1148"/><text x="1440" y="1148">PLK1</text></g>
<g id="d-RBX1"><ellipse class="pk" cx="863" cy="1176"/><text x="863" y="1176">RBX1</text></g>
<g id="d-RPL22"><ellipse class="pk" cx="924" cy="1185"/><text x="924" y="1185">RPL22</text></g>
<g id="d-XPO1"><ellipse class="pk" cx="993" cy="1193"/><text x="993" y="1193">XPO1</text></g>
<g id="d-RPL4"><ellipse class="pk" cx="1061" cy="1197"/><text x="1061" y="1197">RPL4</text></g>
<g id="d-RBM8A"><ellipse class="pk" cx="1126" cy="1201"/><text x="1126" y="1201">RBM8A</text></g>
<g id="d-MAPRE1"><ellipse class="pk" cx="1193" cy="1200"/><text x="1193" y="1200">MAPRE1</text></g>
<g id="d-FAU"><ellipse class="pk" cx="1261" cy="1200"/><text x="1261" y="1200">FAU</text></g>
<g id="d-MAGOHB"><ellipse class="pk" cx="1328" cy="1188"/><text x="1328" y="1188">MAGOHB</text></g>
<g id="d-RPL15"><ellipse class="pk" cx="1391" cy="1177"/><text x="1391" y="1177">RPL15</text></g>
<g id="d-PPP2CA"><ellipse class="cy" cx="1127" cy="899" style="rx:32px;ry:14px"/><text x="1127" y="899">PPP2CA</text></g>
</g>
<g id="E">
<g id="e-NSP2"><ellipse class="ye" cx="172" cy="1103"/><text x="172" y="1103">NSP2</text></g>
<g id="e-SPIKE"><ellipse class="ye" cx="250" cy="1122"/><text x="250" y="1122">SPIKE</text></g>
<g id="e-NSP4"><ellipse class="ye" cx="137" cy="1130"/><text x="137" y="1130">NSP4</text></g>
<g id="e-N"><ellipse class="ye" cx="300" cy="1147"/><text x="300" y="1147">N</text></g>
<g id="e-NSP6"><ellipse class="ye" cx="109" cy="1156"/><text x="109" y="1156">NSP6</text></g>
<g id="e-E"><ellipse class="ye" cx="322" cy="1172"/><text x="322" y="1172">E</text></g>
<g id="e-NSP9"><ellipse class="ye" cx="109" cy="1181"/><text x="109" y="1181">NSP9</text></g>
<g id="e-NSP10"><ellipse class="ye" cx="113" cy="1206"/><text x="113" y="1206">NSP10</text></g>
<g id="e-ORF10"><ellipse class="ye" cx="328" cy="1211"/><text x="328" y="1211">ORF10</text></g>
<g id="e-NSP12"><ellipse class="ye" cx="115" cy="1231"/><text x="115" y="1231">NSP12</text></g>
<g id="e-ORF9C"><ellipse class="ye" cx="334" cy="1238"/><text x="334" y="1238">ORF9C</text></g>
<g id="e-NSP13"><ellipse class="ye" cx="114" cy="1256"/><text x="114" y="1256">NSP13</text></g>
<g id="e-ORF8"><ellipse class="ye" cx="332" cy="1263"/><text x="332" y="1263">ORF8</text></g>
<g id="e-NSP15"><ellipse class="ye" cx="123" cy="1281"/><text x="123" y="1281">NSP15</text></g>
<g id="e-ORF7A"><ellipse class="ye" cx="332" cy="1288"/><text x="332" y="1288">ORF7A</text></g>
<g id="e-ORF3A"><ellipse class="ye" cx="157" cy="1306"/><text x="157" y="1306">ORF3A</text></g>
<g id="e-ORF6"><ellipse class="ye" cx="280" cy="1310"/><text x="280" y="1310">ORF6</text></g>
<g id="e-ORF3B"><ellipse class="ye" cx="208" cy="1329"/><text x="208" y="1329">ORF3B</text></g>
<g id="e-CDC20"><ellipse class="pp" cx="225" cy="1192"/><text x="225" y="1192">CDC20</text></g>
<g id="e-PPP2CA"><ellipse class="cy" cx="426" cy="1192"/><text x="426" y="1192">PPP2CA</text></g>
</g>
<g id="labels">
<text class="lab" x="16" y="32">A</text>
<text class="lab" x="698" y="32">B</text>
<text class="lab" x="16" y="613">C</text>
<text class="lab" x="698" y="613">D</text>
<text class="lab" x="16" y="1083">E</text>
</g>
</g>
</svg>
